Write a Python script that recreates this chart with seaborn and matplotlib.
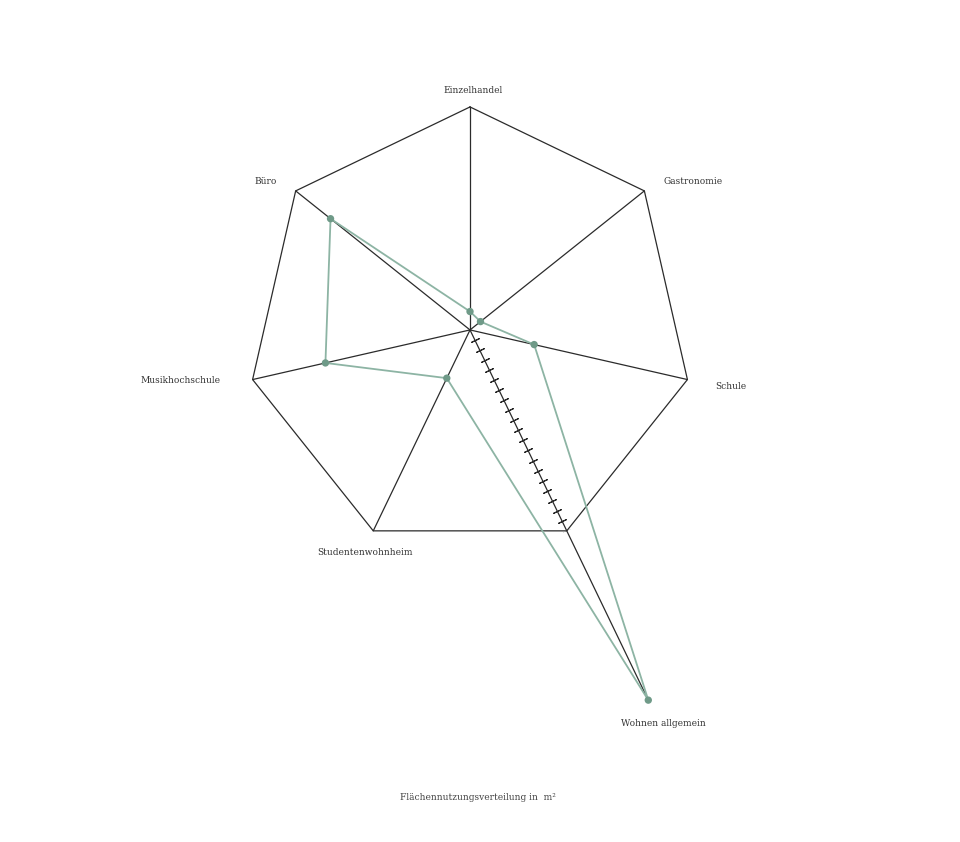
import numpy as np
import pandas as pd
import matplotlib
matplotlib.use('Agg')
import matplotlib.pyplot as plt
import seaborn as sns

# Kategorien im Uhrzeigersinn, beginnend oben
categories = ['Einzelhandel', 'Gastronomie', 'Schule', 'Wohnen allgemein',
              'Studentenwohnheim', 'Musikhochschule', 'Büro']
# Flächen in m2 (aus dem Bild geschätzt)
areas = [1650, 1200, 5900, 36850, 4800, 13300, 16000]
scale_max = 20000
tick_step = 1000
title = 'Flächennutzungsverteilung in  m²'

# Label-Versatz in Pixeln (dx, dy, ha)
label_offsets = [(3, 16, 'center'), (19, 9, 'left'), (28, -7, 'left'),
                 (15, -23, 'center'), (-8, -22, 'center'), (-32, -1, 'right'),
                 (-19, 9, 'right')]

sns.set_style('white')
plt.rcParams['font.family'] = ['DejaVu Serif', 'DejaVu Sans']

n = len(categories)
angles = np.arange(n) * 2 * np.pi / n
df = pd.DataFrame({'kategorie': categories, 'theta': angles, 'flaeche': areas})
closed = pd.concat([df, df.iloc[[0]]], ignore_index=True)

fig = plt.figure(figsize=(9.6, 8.42), dpi=100)
ax = fig.add_axes([0.2573, 0.3433, 0.4646, 0.5297], projection='polar')
ax.set_theta_offset(np.pi / 2)
ax.set_theta_direction(-1)
ax.set_ylim(0, scale_max)
ax.grid(False)
ax.spines['polar'].set_visible(False)
ax.set_xticks([])
ax.set_yticks([])
ax.patch.set_alpha(0)

axis_col = '#2b2b2b'
# Siebeneck
ax.plot(np.append(angles, angles[0]), [scale_max] * (n + 1), color=axis_col,
        lw=0.9, clip_on=False)
# Achsen
for th, v in zip(angles, areas):
    ax.plot([th, th], [0, max(v, scale_max)], color=axis_col, lw=0.9, clip_on=False)

# Skala entlang der Wohnen-Achse
w = categories.index('Wohnen allgemein')
ticks_r = np.arange(tick_step, scale_max + 1, tick_step)
mk_angle = 90 - np.degrees(angles[w])
ax.plot([angles[w]] * len(ticks_r), ticks_r, linestyle='none',
        marker=(2, 2, mk_angle), markersize=6.5, color=axis_col, mew=0.8)

# Daten
sns.lineplot(data=closed, x='theta', y='flaeche', sort=False, estimator=None,
             ax=ax, color='#8db4a4', lw=1.3, clip_on=False)
sns.scatterplot(data=df, x='theta', y='flaeche', ax=ax, color='#6f9a88',
                s=28, edgecolor='none', clip_on=False, zorder=5)
ax.set_xlabel('')
ax.set_ylabel('')

for (th, v, name), (dx, dy, ha) in zip(zip(angles, areas, categories), label_offsets):
    ax.annotate(name, xy=(th, max(v, scale_max)), xytext=(dx, dy),
                textcoords='offset pixels', ha=ha, va='center',
                fontsize=6.5, color='#333333', annotation_clip=False)

fig.text(478 / 960, 1 - 797 / 842, title, ha='center', va='center',
         fontsize=6.5, color='#444444')

fig.savefig('out.png', dpi=100, facecolor='white')
